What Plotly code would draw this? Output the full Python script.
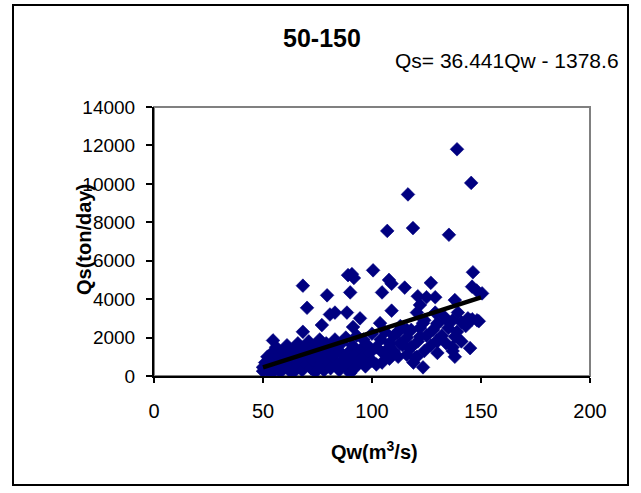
import plotly.graph_objects as go

# ---- data ----
# clearly separated points
qw_top = [
    139, 145.5, 116.5, 118.8, 107, 135.3,
    100.5, 90.8, 91.7, 89, 107.8, 109, 146.3, 145.9, 150.5, 148, 127, 115, 104.6, 90,
    68.3, 79.4, 121, 125, 129, 138, 122, 70.2, 83, 88.5, 94.5, 109, 120.6, 129, 139.4,
    80.7, 134.4, 145, 148.2, 123.4, 130, 103.7, 77, 91.3, 68.3, 54.6, 111.5, 112.8, 116,
    138, 122, 130, 137, 145, 138, 117.4, 119.7, 123.4, 120.6, 108, 104.6, 112.8, 129.8,
]
qs_top = [
    11800, 10050, 9450, 7700, 7550, 7350,
    5500, 5300, 5100, 5250, 5000, 4800, 5400, 4650, 4300, 4450, 4850, 4600, 4350, 4350,
    4700, 4200, 4150, 4100, 4100, 3950, 3700, 3550, 3300, 3300, 3000, 3400, 3300, 3300, 3300,
    3200, 2900, 2900, 2900, 2750, 2750, 2750, 2650, 2550, 2300, 1850, 2250, 2400, 2400,
    2050, 2050, 1800, 1500, 1450, 1000, 1450, 950, 450, 1000, 1500, 700, 1700, 1850,
]
# dense band near the trend line
qw_band = [
    50, 50, 51, 52, 52, 53, 54, 54, 55, 56, 56, 57, 58, 58, 59, 60, 60, 61, 62, 62,
    63, 64, 64, 65, 66, 66, 67, 68, 68, 69, 70, 70, 71, 72, 72, 73, 74, 74, 75, 76,
    76, 77, 78, 78, 79, 80, 80, 81, 82, 82, 83, 84, 85, 85, 86, 87, 88, 88, 89, 90,
    90, 91, 92, 92, 93, 94, 95, 96, 96, 97, 98, 99, 100, 100,
    102, 102, 104, 105, 106, 108, 108, 110, 110, 112, 113, 114, 116, 116, 118, 118,
    119, 121, 122, 124, 124, 125, 127, 128, 130, 130, 132, 133, 134, 135, 137, 137,
    139, 141, 141, 143, 144, 146, 149,
]
qs_band = [
    450, 250, 700, 300, 1000, 600, 150, 1200, 800, 400, 1500, 1000, 200, 700, 1300, 500, 900, 1600, 300, 1100,
    700, 1400, 200, 900, 500, 1700, 1200, 300, 800, 1500, 600, 1000, 1800, 400, 1300, 800, 1600, 200, 1100, 600,
    1900, 1400, 300, 900, 1700, 700, 1200, 400, 1500, 1000, 1900, 600, 1300, 300, 1700, 900, 2000, 500, 1200, 800,
    150, 1600, 1100, 400, 2100, 700, 1400, 1000, 1900, 500, 1600, 1200, 2200, 800,
    1500, 600, 1900, 1200, 2300, 900, 1700, 2100, 1300, 1000, 2600, 1600, 2000, 1100, 1500, 2400,
    700, 1800, 2500, 1300, 2900, 2100, 1600, 2400, 2700, 1200, 2100, 3100, 1700, 2500, 2900, 1300,
    2300, 2800, 1800, 2600, 3000, 2950, 2850,
]
qw = qw_top + qw_band
qs = qs_top + qs_band

# trendline given by the equation shown on the chart
slope = 36.441
intercept = -1378.6
fit_x = [50, 150]
fit_y = [slope * v + intercept for v in fit_x]

x_ticks = [0, 50, 100, 150, 200]
y_ticks = [0, 2000, 4000, 6000, 8000, 10000, 12000, 14000]

FONT = "Arial, 'Liberation Sans', sans-serif"

fig = go.Figure()
fig.add_trace(go.Scatter(
    x=qw, y=qs, mode="markers",
    marker=dict(symbol="diamond", size=10.5, color="#000080",
                line=dict(width=0.6, color="#000080")),
    showlegend=False, hoverinfo="skip",
))
fig.add_trace(go.Scatter(
    x=fit_x, y=fit_y, mode="lines",
    line=dict(color="black", width=4.5),
    showlegend=False, hoverinfo="skip",
))

L, R, T, B = 154, 590, 107, 376
W, H = 641, 493
pw, ph = R - L, B - T

def px(xp):
    return (xp - L) / pw

def py(yp):
    return (B - yp) / ph

fig.update_layout(
    width=W, height=H,
    margin=dict(l=L, r=W - R, t=T, b=H - B, pad=0),
    paper_bgcolor="white", plot_bgcolor="white",
    font=dict(family=FONT, color="black", size=19),
    xaxis=dict(range=[0, 200], tickvals=x_ticks, ticktext=[str(v) for v in x_ticks],
               showgrid=False, zeroline=False, showline=True, linecolor="black",
               linewidth=2, ticks="outside", ticklen=5, tickwidth=1.5, tickcolor="black",
               tickfont=dict(size=20), ticklabelstandoff=11),
    yaxis=dict(range=[0, 14000], tickvals=y_ticks, ticktext=[str(v) for v in y_ticks],
               showgrid=False, zeroline=False, showline=True, linecolor="black",
               linewidth=2, ticks="outside", ticklen=6, tickwidth=1.5, tickcolor="black",
               tickfont=dict(size=19), ticklabelstandoff=7),
    shapes=[
        dict(type="rect", xref="paper", yref="paper", x0=0, x1=1, y0=0, y1=1,
             line=dict(color="#808080", width=2), layer="below"),
        dict(type="rect", xref="paper", yref="paper",
             x0=px(13), x1=px(628), y0=py(485), y1=py(5),
             line=dict(color="black", width=2)),
    ],
    annotations=[
        dict(text="<b>50-150</b>", xref="paper", yref="paper", x=px(322), y=py(38),
             showarrow=False, font=dict(size=25), xanchor="center", yanchor="middle"),
        dict(text="Qs= 36.441Qw - 1378.6", xref="paper", yref="paper", x=px(507), y=py(60),
             showarrow=False, font=dict(size=21), xanchor="center", yanchor="middle"),
        dict(text="<b>Qs(ton/day)</b>", xref="paper", yref="paper", x=px(84), y=py(240),
             showarrow=False, textangle=-90, font=dict(size=20),
             xanchor="center", yanchor="middle"),
        dict(text="<b>Qw(m<sup>3</sup>/s)</b>", xref="paper", yref="paper", x=px(374), y=py(450),
             showarrow=False, font=dict(size=20), xanchor="center", yanchor="middle"),
    ],
)

fig.write_html("out.html")
